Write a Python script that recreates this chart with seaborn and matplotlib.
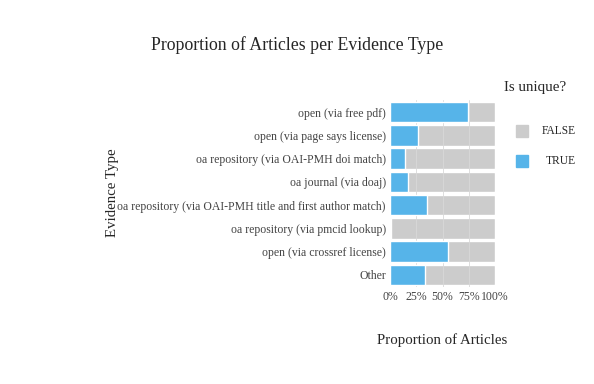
import pandas as pd
import numpy as np
import matplotlib.pyplot as plt
import seaborn as sns

# evidence types, top to bottom
evidence = ['open (via free pdf)', 'open (via page says license)',
            'oa repository (via OAI-PMH doi match)', 'oa journal (via doaj)',
            'oa repository (via OAI-PMH title and first author match)',
            'oa repository (via pmcid lookup)', 'open (via crossref license)', 'Other']
prop_true = [0.743, 0.263, 0.143, 0.175, 0.349, 0.006, 0.552, 0.333]
prop_false = [1 - v for v in prop_true]

df = pd.DataFrame({'evidence': evidence, 'TRUE': prop_true, 'FALSE': prop_false})
df['total'] = df['TRUE'] + df['FALSE']

sns.set_style('white')
plt.rcParams['font.family'] = ['Liberation Serif', 'DejaVu Serif']

fig = plt.figure(figsize=(5.94, 3.84), dpi=100)
ax = fig.add_axes([0.6566, 0.2539, 0.1768, 0.4844])

sns.barplot(data=df, y='evidence', x='total', color='#cccccc', width=0.89,
            saturation=1, ax=ax, orient='h', zorder=2)
sns.barplot(data=df, y='evidence', x='TRUE', color='#56b4e9', width=0.89,
            saturation=1, ax=ax, orient='h', zorder=3)

for g in [0.25, 0.5, 0.75]:
    ax.axvline(g, color='#d8d8d8', lw=0.6, zorder=2.5)

ax.set_xlim(0, 1)
ax.set_ylim(7.5, -0.5)
ax.set_xticks([0, 0.25, 0.5, 0.75, 1.0])
ax.set_xticklabels(['0%', '25%', '50%', '75%', '100%'])
ax.tick_params(axis='both', length=0, labelsize=8.5, colors='#444444', pad=3)
for s in ax.spines.values():
    s.set_visible(False)

ax.set_xlabel('Proportion of Articles', fontsize=10.7, labelpad=22)
ax.set_ylabel('')
fig.text(0.189, 0.497, 'Evidence Type', rotation=90, fontsize=10.7,
         ha='center', va='center')
fig.text(0.5, 0.883, 'Proportion of Articles per Evidence Type', fontsize=12.8,
         ha='center', va='center')

# legend
fig.text(0.848, 0.771, 'Is unique?', fontsize=10.8, ha='left', va='center')
fig.patches.append(plt.Rectangle((0.869, 0.642), 0.02, 0.033, color='#cccccc',
                                 transform=fig.transFigure, figure=fig))
fig.patches.append(plt.Rectangle((0.869, 0.564), 0.02, 0.033, color='#56b4e9',
                                 transform=fig.transFigure, figure=fig))
fig.text(0.912, 0.658, 'FALSE', fontsize=8.3, ha='left', va='center')
fig.text(0.919, 0.580, 'TRUE', fontsize=8.3, ha='left', va='center')

fig.savefig('out.png', dpi=100)
